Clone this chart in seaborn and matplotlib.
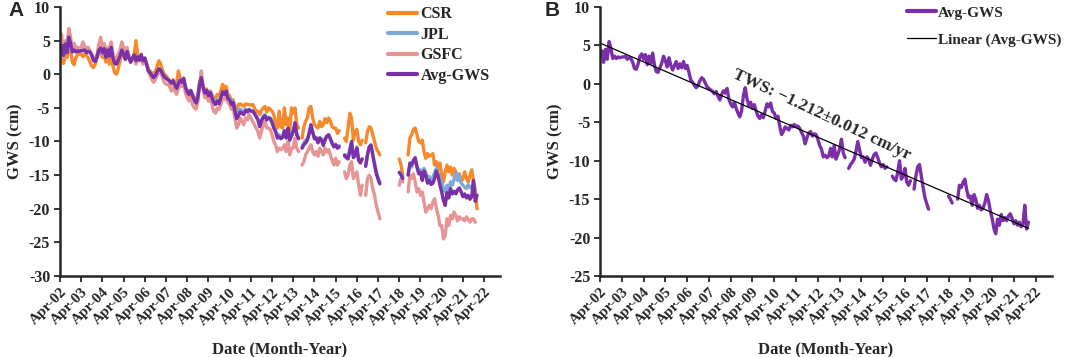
import numpy as np
import pandas as pd
import matplotlib
matplotlib.use('Agg')
import matplotlib.pyplot as plt
from matplotlib.lines import Line2D
import seaborn as sns

nan = np.nan

# monthly GWS anomalies (cm), Apr-2002 .. Dec-2021, one row per Apr-Mar year
csr = [
    3.0, 3.2, 1.6, 3.0, 2.5, 4.2, 3.5, 1.8, 1.4, 2.5, 2.9, 3.0,
    3.0, 2.6, 3.0, 2.8, 2.4, 1.8, 1.2, 1.0, 1.5, 2.5, 3.2, 3.5,
    2.5, 3.0, 1.8, 2.6, 1.5, 2.6, 1.2, 0.2, 0.0, 0.8, 2.0, 3.0,
    2.8, 2.2, 3.5, 2.8, 1.8, 2.2, 3.0, 5.0, 2.8, 2.0, 2.6, 2.2,
    2.2, 1.6, 0.8, 0.5, 0.2, 0.0, 0.4, 1.2, 2.0, 1.5, 0.6, 0.0,
    -0.2, -0.6, -1.0, -1.5, -0.8, -1.2, -1.5, 0.5, -0.5, -1.2, -0.8, -2.0,
    -3.0, -3.5, -2.5, -3.0, -3.5, -4.0, -3.0, -1.2, -0.5, -1.8, -2.5, -2.2,
    -3.0, -2.5, -3.0, -3.8, -3.5, -3.0, -3.2, -2.5, -1.5, -2.2, -1.8, -3.0,
    -3.2, -4.0, -3.8, -4.8, -5.5, -4.5, -4.4, -4.6, -4.8, -4.4, -4.5, -4.5,
    -4.6, -4.5, -5.0, -5.5, -5.5, -6.0, -5.4, -5.0, -4.8, -5.6, -5.0, -5.2,
    -5.5, -6.0, -7.5, -8.0, -5.5, -7.8, -8.0, -5.0, -7.5, -6.5, -8.5, -5.0,
    -5.8, -5.0, -7.5, -8.0, nan, -9.5, -7.8, -7.0, -6.5, -5.0, -4.8, -6.5,
    -7.5, -7.8, -8.0, -7.0, -7.8, -7.5, -6.6, -7.2, -6.5, -7.0, -7.8, -8.0,
    -8.0, -8.8, -8.4, nan, nan, -9.5, -10.0, -8.0, -5.8, -6.5, -9.8, -8.5,
    -8.2, -10.0, -10.5, -9.8, nan, -10.2, -8.5, -7.8, -8.0, -9.0, -10.0, -11.0,
    -11.5, -12.0, nan, nan, nan, nan, nan, nan, nan, nan, nan, nan,
    -12.6, -13.5, -15.0, nan, nan, -12.0, -9.5, -9.0, -8.2, -8.0, -9.0, -10.0,
    -10.2, -9.8, -11.5, -12.5, -11.8, -12.2, -12.0, -11.8, -13.5, -13.0, -14.2, -13.2,
    -15.0, -16.0, -14.5, -13.5, -14.5, -13.8, -15.0, -14.0, -14.5, -15.5, -14.8, -16.0,
    -15.5, -14.5, -15.5, -16.0, -15.0, -14.2, -16.0, -17.5, -20.0,
]

jpl = [
    2.6, 2.8, 3.0, 4.0, 3.2, 4.5, 4.0, 3.6, 3.8, 3.8, 4.0, 3.8,
    3.8, 3.6, 3.8, 3.5, 3.6, 3.4, 2.8, 2.2, 2.0, 2.6, 3.4, 3.5,
    3.0, 3.4, 2.8, 3.2, 3.0, 3.4, 2.8, 2.2, 2.0, 2.4, 2.8, 3.2,
    3.0, 2.4, 3.0, 2.5, 2.0, 2.4, 2.8, 2.2, 2.4, 2.2, 2.6, 2.0,
    2.4, 1.6, 0.6, 0.2, -0.2, -0.4, -0.2, 0.3, 0.8, 0.6, 0.2, -0.3,
    -0.5, -0.8, -1.0, -1.2, -1.0, -1.4, -1.8, -1.2, -0.8, -1.2, -0.6, -1.8,
    -2.4, -2.6, -2.4, -3.0, -3.6, -4.0, -3.4, -1.6, -0.6, -2.0, -2.6, -2.4,
    -3.0, -2.6, -3.2, -4.0, -4.2, -3.8, -4.0, -3.4, -2.6, -3.0, -2.6, -3.4,
    -3.6, -4.2, -4.0, -5.0, -6.0, -5.5, -5.2, -5.4, -5.6, -5.2, -5.4, -5.2,
    -5.4, -5.4, -5.8, -6.2, -6.6, -7.4, -6.8, -6.2, -6.0, -6.6, -6.4, -6.5,
    -7.0, -7.8, -8.4, -9.2, -9.0, -9.4, -9.2, -8.4, -9.2, -8.2, -9.6, -9.0,
    -8.4, -7.4, -8.8, -9.4, nan, -10.8, -10.2, -9.8, -9.6, -8.8, -7.6, -8.6,
    -9.4, -9.4, -10.0, -9.4, -9.6, -10.2, -9.6, -9.2, -9.0, -9.6, -10.2, -10.6,
    -10.4, -10.8, -10.6, nan, nan, -12.2, -12.0, -12.4, -11.0, -10.2, -12.0, -12.2,
    -10.8, -12.6, -13.0, -12.6, nan, -13.4, -12.0, -10.8, -10.6, -12.0, -13.2, -14.4,
    -15.4, -16.0, nan, nan, nan, nan, nan, nan, nan, nan, nan, nan,
    -14.6, -14.8, -15.2, nan, nan, -14.8, -13.6, -13.8, -13.0, -12.8, -13.6, -14.4,
    -14.2, -15.0, -14.0, -14.6, -15.6, -15.2, -15.8, -15.4, -14.6, -14.0, -14.8, -15.4,
    -16.0, -17.0, -17.5, -16.5, -17.2, -16.0, -16.5, -15.6, -14.6, -15.8, -15.0, -16.2,
    -16.5, -16.8, -17.0, -16.4, -16.8, -17.0, -16.0, -17.2, nan,
]

gsfc = [
    6.3, 5.8, 2.5, 5.0, 4.2, 6.8, 5.5, 3.5, 4.6, 4.0, 3.8, 3.5,
    4.0, 4.8, 4.2, 3.6, 4.0, 3.5, 3.0, 2.5, 2.2, 3.0, 4.5, 5.5,
    4.0, 4.6, 3.5, 4.0, 3.8, 4.8, 3.0, 2.0, 2.5, 3.0, 3.6, 4.8,
    4.0, 2.8, 4.0, 2.6, 2.0, 2.2, 2.5, 1.5, 2.4, 2.0, 3.0, 1.5,
    2.4, 1.4, 0.5, -0.2, -0.8, -1.2, -0.8, -0.2, 0.5, 0.2, -0.5, -1.2,
    -1.5, -1.5, -1.8, -2.5, -2.0, -2.5, -3.0, -2.2, -1.6, -1.8, -1.0, -2.8,
    -3.5, -4.0, -3.5, -4.5, -5.0, -5.2, -4.2, -1.5, 0.5, -2.2, -3.5, -3.0,
    -4.0, -3.5, -4.5, -5.5, -5.8, -5.0, -5.2, -4.5, -3.5, -3.8, -3.2, -4.2,
    -4.5, -5.2, -5.0, -6.5, -8.0, -7.5, -6.5, -7.0, -7.5, -6.5, -6.8, -6.0,
    -6.5, -7.0, -7.5, -8.0, -8.5, -9.5, -8.5, -7.5, -7.0, -8.0, -8.0, -8.2,
    -9.0, -10.0, -10.5, -11.5, -11.0, -11.2, -11.0, -10.5, -11.5, -10.0, -12.0, -11.0,
    -11.0, -9.5, -11.0, -11.5, nan, -13.5, -13.0, -12.0, -11.5, -11.0, -10.5, -11.5,
    -12.0, -11.5, -12.2, -11.0, -11.5, -12.0, -11.0, -11.6, -11.2, -12.0, -12.8, -13.5,
    -12.5, -13.5, -13.0, nan, nan, -14.5, -15.5, -15.0, -13.5, -13.0, -15.5, -15.0,
    -14.5, -16.5, -18.0, -16.5, nan, -18.0, -15.5, -15.0, -15.5, -17.0, -18.0, -19.5,
    -20.5, -21.5, nan, nan, nan, nan, nan, nan, nan, nan, nan, nan,
    -16.5, -15.5, -16.0, nan, nan, -17.5, -15.0, -15.5, -14.8, -16.0, -17.5, -17.0,
    -18.0, -17.5, -19.0, -20.5, -20.0, -19.5, -20.0, -19.0, -18.5, -20.0, -21.0, -22.5,
    -22.5, -24.5, -24.0, -21.5, -22.5, -21.0, -21.5, -20.5, -21.0, -21.8, -21.2, -21.5,
    -21.5, -21.8, -21.2, -21.6, -22.0, -21.5, -21.5, -22.0, nan,
]

avg_gws = [
    4.0, 4.3, 2.8, 4.5, 3.2, 5.5, 4.6, 3.3, 3.6, 3.3, 3.5, 3.4,
    3.5, 3.5, 3.6, 3.2, 3.4, 3.3, 2.8, 2.0, 1.9, 2.6, 3.6, 3.9,
    3.2, 3.8, 2.5, 3.6, 2.7, 4.0, 2.4, 1.6, 1.5, 2.1, 2.7, 3.6,
    3.0, 2.2, 3.4, 2.4, 1.8, 2.4, 2.9, 2.0, 2.6, 2.1, 2.9, 2.0,
    2.4, 1.5, 0.5, 0.2, -0.2, -0.5, -0.2, 0.4, 0.8, 0.6, 0.1, -0.4,
    -0.6, -0.8, -1.0, -1.3, -1.0, -1.6, -2.1, -1.4, -0.9, -1.2, -0.6, -2.0,
    -2.6, -3.0, -2.4, -3.2, -3.8, -4.3, -3.5, -1.5, -0.5, -2.0, -2.8, -2.4,
    -3.2, -2.7, -3.5, -4.2, -4.5, -4.0, -4.4, -3.5, -2.6, -3.0, -2.5, -3.6,
    -3.8, -4.5, -4.2, -5.5, -6.6, -6.2, -5.6, -5.8, -6.0, -5.4, -5.6, -5.3,
    -5.5, -5.5, -5.8, -6.3, -6.8, -7.8, -7.0, -6.4, -6.2, -6.8, -6.5, -6.6,
    -7.2, -8.0, -8.5, -9.5, -9.3, -9.6, -9.4, -8.4, -9.5, -8.0, -9.8, -9.2,
    -8.5, -7.2, -9.0, -9.6, nan, -11.0, -10.5, -10.2, -9.8, -8.8, -7.5, -8.6,
    -9.6, -9.5, -10.2, -9.5, -9.8, -10.6, -9.8, -9.2, -9.0, -9.6, -10.3, -10.8,
    -10.5, -11.0, -10.8, nan, nan, -12.0, -12.4, -12.6, -11.5, -10.0, -12.4, -12.0,
    -11.0, -12.8, -13.2, -12.6, nan, -13.7, -12.0, -10.8, -10.5, -12.0, -13.5, -14.8,
    -15.6, -16.3, nan, nan, nan, nan, nan, nan, nan, nan, nan, nan,
    -14.6, -15.0, -15.5, nan, nan, -15.0, -13.2, -13.5, -12.8, -12.4, -13.8, -14.8,
    -14.6, -15.8, -14.4, -15.0, -16.2, -15.8, -16.4, -16.2, -15.5, -14.4, -15.2, -16.5,
    -17.5, -18.8, -19.5, -17.6, -18.4, -17.0, -17.8, -17.4, -17.8, -17.2, -16.9, -17.5,
    -18.2, -17.8, -18.4, -18.0, -18.6, -18.2, -15.8, -18.9, -18.0,
]

year_labels = ['Apr-%02d' % y for y in range(2, 23)]
series_names = ['CSR', 'JPL', 'GSFC', 'Avg-GWS']
series_colors = ['#F7892B', '#7FA9D4', '#E69494', '#7B2FA8']


def to_frame(values):
    v = np.array(values, dtype=float)
    df = pd.DataFrame({'month': np.arange(len(v)), 'gws': v})
    df['seg'] = df['gws'].isna().cumsum()
    return df.dropna()


sns.set_style('ticks')
plt.rcParams['font.family'] = ['Liberation Serif', 'DejaVu Serif']
plt.rcParams['font.weight'] = 'bold'
plt.rcParams['axes.unicode_minus'] = False

fig = plt.figure(figsize=(10.65, 3.57), dpi=100)
axA = fig.add_axes([0.0563, 0.2269, 0.4132, 0.7535])
axB = fig.add_axes([0.5634, 0.2269, 0.4244, 0.7535])

# panel A: the three solutions and their mean
for vals, name, col in zip([csr, jpl, gsfc, avg_gws], series_names, series_colors):
    sns.lineplot(data=to_frame(vals), x='month', y='gws', units='seg', estimator=None,
                 color=col, lw=2.4, ax=axA, legend=False)

handles = [Line2D([], [], color=c, lw=3) for c in series_colors]
axA.legend(handles, series_names, loc='upper left', bbox_to_anchor=(0.358, 1.0),
           bbox_transform=fig.transFigure, frameon=False, fontsize=11.5,
           handlelength=1.85, handletextpad=0.2, labelspacing=0.28, borderaxespad=0)

# panel B: mean with linear trend
avg_df = to_frame(avg_gws)
sns.lineplot(data=avg_df, x='month', y='gws', units='seg', estimator=None,
             color=series_colors[3], lw=2.4, ax=axB, legend=False)
sns.regplot(data=avg_df, x='month', y='gws', scatter=False, ci=None, truncate=True,
            color='black', line_kws={'lw': 0.9}, ax=axB)
axB.text(122, -4.0, 'TWS: \u22121.212\u00b10.012 cm/yr', rotation=-25,
         ha='center', va='center', fontsize=12.5, fontweight='bold')
handlesB = [Line2D([], [], color=series_colors[3], lw=3), Line2D([], [], color='black', lw=0.9)]
axB.legend(handlesB, ['Avg-GWS', 'Linear (Avg-GWS)'], loc='upper left',
           bbox_to_anchor=(0.846, 1.0), bbox_transform=fig.transFigure, frameon=False,
           fontsize=11, handlelength=1.9, handletextpad=0.12, labelspacing=0.85,
           borderaxespad=0)

for ax, ylo in [(axA, -30), (axB, -25)]:
    ax.set_xlim(0, 249)
    ax.set_ylim(ylo, 10)
    ax.set_yticks(np.arange(ylo, 11, 5))
    ax.set_xticks(np.arange(0, 241, 12))
    ax.set_xticklabels(year_labels, rotation=45, ha='right', rotation_mode='anchor',
                       fontsize=11, fontweight='bold')
    for lab in ax.get_yticklabels():
        lab.set_fontsize(11.5)
        lab.set_fontweight('bold')
    ax.set_xlabel('Date (Month-Year)', fontsize=12, fontweight='bold', labelpad=10)
    ax.set_ylabel('GWS (cm)', fontsize=12, fontweight='bold', labelpad=4)
    sns.despine(ax=ax)
    for s in ['left', 'bottom']:
        ax.spines[s].set_linewidth(1.8)
    ax.tick_params(axis='both', direction='out', length=4, width=1.3, pad=3)

fig.text(0.008, 0.955, 'A', fontsize=15, fontweight='bold', family=['Liberation Sans', 'DejaVu Sans'])
fig.text(0.511, 0.955, 'B', fontsize=15, fontweight='bold', family=['Liberation Sans', 'DejaVu Sans'])

fig.savefig('out.png', dpi=100)
